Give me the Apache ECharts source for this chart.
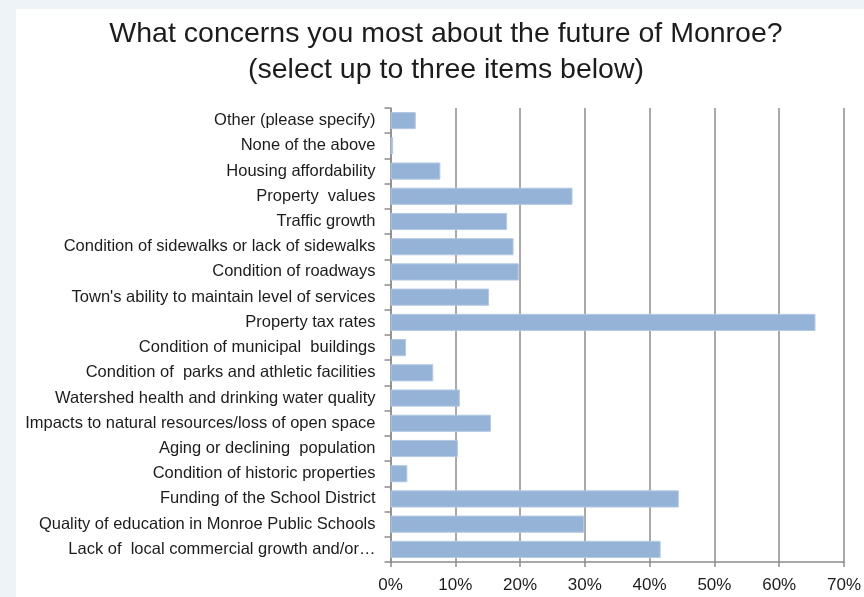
<!DOCTYPE html>
<html>
<head>
<meta charset="utf-8">
<script src="https://cdn.jsdelivr.net/npm/echarts@6/dist/echarts.min.js"></script>
<style>
  html, body { margin: 0; padding: 0; background: #eef3f8; }
  #chart { width: 864px; height: 597px; }
</style>
</head>
<body>
<div id="chart"></div>
<script>
// Survey answers, listed top to bottom
const categories = [
  'Other (please specify)',
  'None of the above',
  'Housing affordability',
  'Property  values',
  'Traffic growth',
  'Condition of sidewalks or lack of sidewalks',
  'Condition of roadways',
  "Town's ability to maintain level of services",
  'Property tax rates',
  'Condition of municipal  buildings',
  'Condition of  parks and athletic facilities',
  'Watershed health and drinking water quality',
  'Impacts to natural resources/loss of open space',
  'Aging or declining  population',
  'Condition of historic properties',
  'Funding of the School District',
  'Quality of education in Monroe Public Schools',
  'Lack of  local commercial growth and/or\u2026'
];

// Share of respondents (%) selecting each item
const percentages = [3.9, 0.4, 7.7, 28.1, 18.0, 19.0, 19.8, 15.2, 65.6, 2.4, 6.6, 10.7, 15.5, 10.4, 2.6, 44.5, 29.9, 41.7];

const titleLines = ['What concerns you most about the future of Monroe?', '(select up to three items below)'];

const FONT = '"Liberation Sans", Arial, Helvetica, sans-serif';
const chart = echarts.init(document.getElementById('chart'), null, { renderer: 'canvas' });

chart.setOption({
  backgroundColor: 'transparent',
  animation: false,
  graphic: [
    {
      type: 'rect', z: -10, silent: true,
      shape: { x: 16, y: 9, width: 848, height: 588 },
      style: { fill: '#ffffff' }
    },
    {
      type: 'text', silent: true,
      x: 446, y: 16,
      style: {
        text: titleLines.join('\n'),
        font: '28.5px ' + FONT,
        lineHeight: 36,
        fill: '#1c1c1c',
        align: 'center',
        verticalAlign: 'top'
      }
    }
  ],
  grid: { left: 390.5, right: 19.5, top: 108, bottom: 35, containLabel: false },
  xAxis: {
    type: 'value',
    min: 0, max: 70, interval: 10,
    axisLine: { show: true, lineStyle: { color: '#8c8c8c', width: 1.5 } },
    axisTick: { show: true, length: 5, lineStyle: { color: '#8c8c8c', width: 1.5 } },
    axisLabel: { formatter: '{value}%', color: '#1c1c1c', fontSize: 17, fontFamily: FONT, margin: 15 },
    splitLine: { show: true, lineStyle: { color: '#8c8c8c', width: 1.5 } }
  },
  yAxis: {
    type: 'category',
    inverse: true,
    data: categories,
    axisLine: { show: true, lineStyle: { color: '#8c8c8c', width: 1.5 } },
    axisTick: { show: true, length: 6, lineStyle: { color: '#8c8c8c', width: 1.5 } },
    axisLabel: { color: '#1c1c1c', fontSize: 16.5, fontFamily: FONT, margin: 15, padding: [2, 0, 0, 0] }
  },
  series: [{
    type: 'bar',
    data: percentages,
    barCategoryGap: '32%',
    itemStyle: { color: '#95b3d7', borderColor: '#b3c8e3', borderWidth: 1 }
  }]
});
</script>
</body>
</html>
